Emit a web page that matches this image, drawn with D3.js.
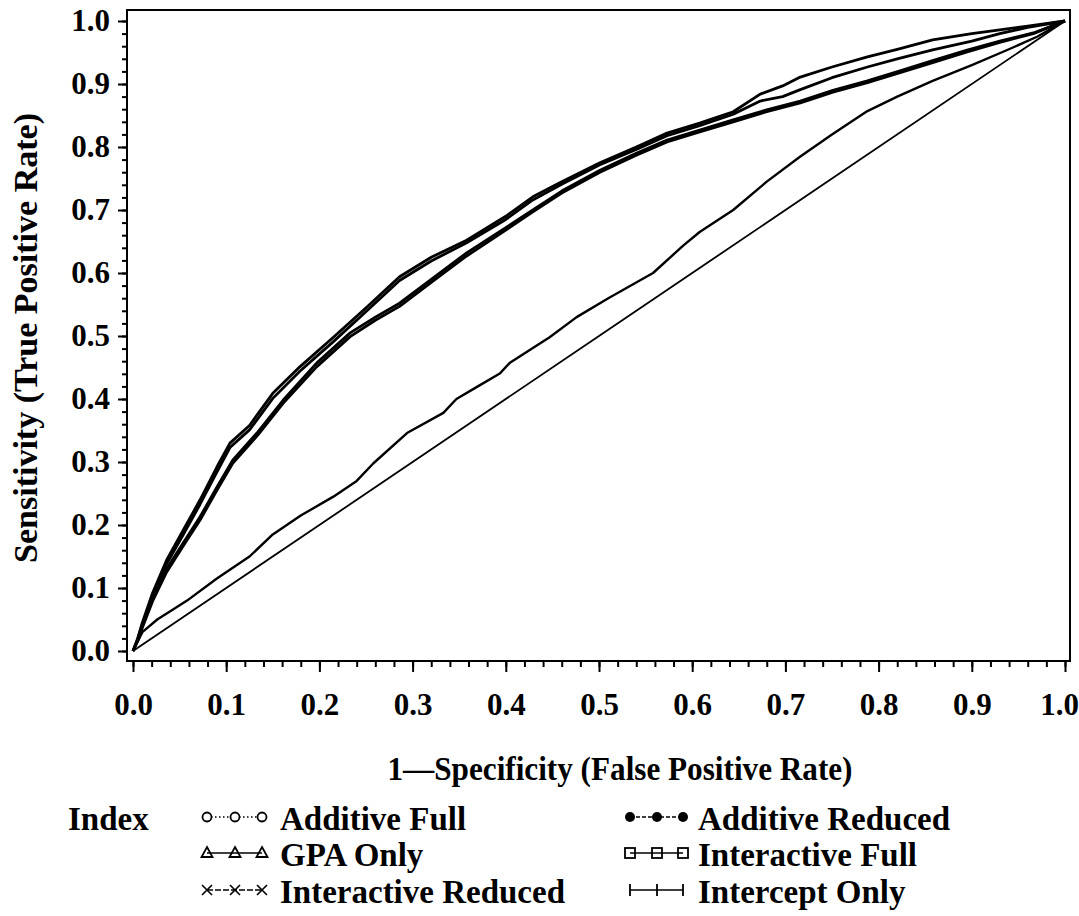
<!DOCTYPE html>
<html><head><meta charset="utf-8">
<script src="https://cdn.jsdelivr.net/npm/d3@7"></script>
<style>
body{margin:0;background:#fff}
svg text{font-family:"Liberation Serif","Times New Roman",serif;font-weight:bold;fill:#000}
</style>
</head><body>
<svg id="c" width="1079" height="916"></svg>
<script>
// ---------- data ----------
const modelNames = ["Additive Full","GPA Only","Interactive Reduced","Additive Reduced","Interactive Full","Intercept Only"];
const xTickValues = [0,0.1,0.2,0.3,0.4,0.5,0.6,0.7,0.8,0.9,1.0];
const yTickValues = [0,0.1,0.2,0.3,0.4,0.5,0.6,0.7,0.8,0.9,1.0];
const minorTickValues = d3.range(0,51).map(i=>i/50);

const interFullFPR = [0,0.005,0.01,0.021,0.036,0.054,0.072,0.09,0.104,0.125,0.15,0.179,0.215,0.251,0.286,0.32,0.358,0.40,0.429,0.46,0.501,0.54,0.573,0.608,0.644,0.673,0.697,0.716,0.75,0.788,0.82,0.858,0.90,0.93,0.96,1.0];
const interFullTPR = [0,0.02,0.045,0.092,0.144,0.192,0.240,0.292,0.330,0.358,0.409,0.451,0.498,0.546,0.594,0.625,0.652,0.690,0.721,0.745,0.775,0.800,0.822,0.838,0.856,0.884,0.897,0.911,0.927,0.943,0.955,0.970,0.980,0.986,0.992,1.0];

const interRedFPR = [0,0.005,0.01,0.021,0.036,0.054,0.072,0.09,0.104,0.125,0.15,0.179,0.215,0.251,0.286,0.32,0.358,0.40,0.429,0.46,0.501,0.54,0.573,0.608,0.644,0.673,0.697,0.716,0.75,0.788,0.82,0.858,0.90,0.93,0.96,1.0];
const interRedTPR = [0,0.018,0.042,0.087,0.138,0.185,0.233,0.284,0.323,0.351,0.401,0.444,0.491,0.540,0.588,0.619,0.648,0.685,0.716,0.741,0.772,0.796,0.818,0.834,0.852,0.873,0.880,0.891,0.910,0.927,0.940,0.954,0.968,0.980,0.990,1.0];

const addFullFPR = [0,0.005,0.01,0.021,0.036,0.054,0.072,0.09,0.107,0.133,0.161,0.197,0.233,0.26,0.286,0.32,0.358,0.40,0.429,0.46,0.501,0.54,0.573,0.608,0.644,0.68,0.716,0.751,0.788,0.823,0.858,0.895,0.93,0.966,1.0];
const addFullTPR = [0,0.018,0.04,0.083,0.13,0.172,0.213,0.26,0.303,0.346,0.398,0.457,0.505,0.53,0.552,0.59,0.632,0.672,0.700,0.73,0.763,0.79,0.811,0.827,0.843,0.859,0.873,0.890,0.905,0.921,0.937,0.954,0.968,0.981,1.0];

const addRedFPR = [0,0.005,0.01,0.021,0.036,0.054,0.072,0.09,0.107,0.133,0.161,0.197,0.233,0.26,0.286,0.32,0.358,0.40,0.429,0.46,0.501,0.54,0.573,0.608,0.644,0.68,0.716,0.751,0.788,0.823,0.858,0.895,0.93,0.966,1.0];
const addRedTPR = [0,0.016,0.037,0.079,0.125,0.167,0.208,0.255,0.298,0.341,0.393,0.451,0.499,0.525,0.547,0.585,0.627,0.668,0.697,0.727,0.760,0.787,0.808,0.824,0.840,0.856,0.870,0.887,0.902,0.918,0.934,0.951,0.966,0.980,1.0];

const gpaFPR = [0,0.01,0.026,0.04,0.058,0.09,0.125,0.15,0.18,0.215,0.24,0.258,0.294,0.333,0.347,0.37,0.394,0.404,0.447,0.476,0.51,0.558,0.59,0.608,0.644,0.68,0.716,0.75,0.788,0.82,0.858,0.9,0.938,0.97,1.0];
const gpaTPR = [0,0.03,0.05,0.063,0.08,0.115,0.15,0.185,0.215,0.245,0.27,0.298,0.346,0.378,0.40,0.42,0.441,0.457,0.498,0.530,0.56,0.60,0.643,0.665,0.70,0.745,0.785,0.82,0.857,0.88,0.905,0.93,0.954,0.975,1.0];

const interceptFPR = [0,0.25,0.5,0.75,1.0];
const interceptTPR = [0,0.25,0.5,0.75,1.0];

// ---------- chart ----------
const svg = d3.select("#c");
const x = d3.scaleLinear().domain([0,1]).range([133,1065]);
const y = d3.scaleLinear().domain([0,1]).range([651,21]);
const fl = x(0)-6, fr = x(1)+5, ft = y(1)-11, fb = y(0)+10;

const zip = (a,b)=>a.map((v,i)=>[v,b[i]]);
const line = d3.line().x(d=>x(d[0])).y(d=>y(d[1]));

const series = [
  {name:"Intercept Only", pts:zip(interceptFPR,interceptTPR), w:1.8},
  {name:"GPA Only", pts:zip(gpaFPR,gpaTPR), w:2.4},
  {name:"Additive Reduced", pts:zip(addRedFPR,addRedTPR), w:2.8},
  {name:"Additive Full", pts:zip(addFullFPR,addFullTPR), w:2.8},
  {name:"Interactive Reduced", pts:zip(interRedFPR,interRedTPR), w:2.8},
  {name:"Interactive Full", pts:zip(interFullFPR,interFullTPR), w:2.8}
];
svg.append("g").selectAll("path").data(series).join("path")
  .attr("d",d=>line(d.pts)).attr("fill","none").attr("stroke","#000")
  .attr("stroke-width",d=>d.w).attr("stroke-linejoin","round");

// frame
svg.append("rect").attr("x",fl).attr("y",ft).attr("width",fr-fl).attr("height",fb-ft)
  .attr("fill","none").attr("stroke","#000").attr("stroke-width",2);

function styleAxis(g){
  g.select(".domain").remove();
  g.selectAll("line").attr("stroke","#000").attr("stroke-width",2);
  g.attr("font-family",null).attr("font-size",null);
  g.selectAll("text").attr("font-size",31).style("font-family",'"Liberation Serif",serif').style("font-weight","bold");
}
// y axis
svg.append("g").attr("transform",`translate(${fl},0)`)
  .call(d3.axisLeft(y).tickValues(minorTickValues).tickSize(5).tickFormat("")).call(styleAxis);
svg.append("g").attr("transform",`translate(${fl},0)`)
  .call(d3.axisLeft(y).tickValues(yTickValues).tickSize(9).tickPadding(8).tickFormat(d3.format(".1f"))).call(styleAxis);
// x axis
svg.append("g").attr("transform",`translate(0,${fb})`)
  .call(d3.axisBottom(x).tickValues(minorTickValues).tickSize(6).tickFormat("")).call(styleAxis);
const xMajor = svg.append("g").attr("transform",`translate(0,${fb})`)
  .call(d3.axisBottom(x).tickValues(xTickValues).tickSize(11).tickPadding(21).tickFormat(d3.format(".1f"))).call(styleAxis);
xMajor.selectAll("text").filter(d=>d===1).attr("dx",-6);

// titles
svg.append("text").attr("x",620).attr("y",780).attr("text-anchor","middle")
  .attr("font-size",33).attr("textLength",465).attr("lengthAdjust","spacingAndGlyphs")
  .text("1\u2014Specificity (False Positive Rate)");
svg.append("text").attr("transform","translate(37,338) rotate(-90)").attr("text-anchor","middle")
  .attr("font-size",33).attr("textLength",450).attr("lengthAdjust","spacingAndGlyphs")
  .text("Sensitivity (True Positive Rate)");

// legend
svg.append("text").attr("x",68).attr("y",830).attr("font-size",33).text("Index");
const legendRows = [830,866,903];
const legendItems = [
  {name:modelNames[0], col:0, row:0, sym:"circleOpen", dash:"1.5,2.5"},
  {name:modelNames[1], col:0, row:1, sym:"triangle", dash:null},
  {name:modelNames[2], col:0, row:2, sym:"cross", dash:"6,2"},
  {name:modelNames[3], col:1, row:0, sym:"circleFilled", dash:"4,2"},
  {name:modelNames[4], col:1, row:1, sym:"square", dash:null},
  {name:modelNames[5], col:1, row:2, sym:"plus", dash:null}
];
const colMarkers = [[207,235,262],[630,657,683]];
const colText = [280,698];
const lg = svg.append("g");
legendItems.forEach(it=>{
  const mx = colMarkers[it.col];
  const cy = legendRows[it.row]-13;
  const g = lg.append("g");
  g.append("line").attr("x1",mx[0]).attr("x2",mx[2]).attr("y1",cy).attr("y2",cy)
    .attr("stroke","#000").attr("stroke-width",1.6).attr("stroke-dasharray",it.dash);
  mx.forEach(px=>{
    if(it.sym==="circleOpen"){
      g.append("circle").attr("cx",px).attr("cy",cy).attr("r",4.5).attr("fill","#fff").attr("stroke","#000").attr("stroke-width",1.8);
    } else if(it.sym==="circleFilled"){
      g.append("circle").attr("cx",px).attr("cy",cy).attr("r",5).attr("fill","#000");
    } else if(it.sym==="triangle"){
      g.append("path").attr("d",`M${px},${cy-6}L${px+5.5},${cy+4}L${px-5.5},${cy+4}Z`).attr("fill","none").attr("stroke","#000").attr("stroke-width",1.8);
    } else if(it.sym==="square"){
      g.append("rect").attr("x",px-5).attr("y",cy-5).attr("width",10).attr("height",10).attr("fill","none").attr("stroke","#000").attr("stroke-width",1.8);
    } else if(it.sym==="cross"){
      g.append("path").attr("d",`M${px-5},${cy-5}L${px+5},${cy+5}M${px-5},${cy+5}L${px+5},${cy-5}`).attr("stroke","#000").attr("stroke-width",1.6);
    } else if(it.sym==="plus"){
      g.append("path").attr("d",`M${px},${cy-6}L${px},${cy+6}`).attr("stroke","#000").attr("stroke-width",1.8);
    }
  });
  g.append("text").attr("x",colText[it.col]).attr("y",legendRows[it.row]).attr("font-size",33).text(it.name);
});
</script>
</body></html>
